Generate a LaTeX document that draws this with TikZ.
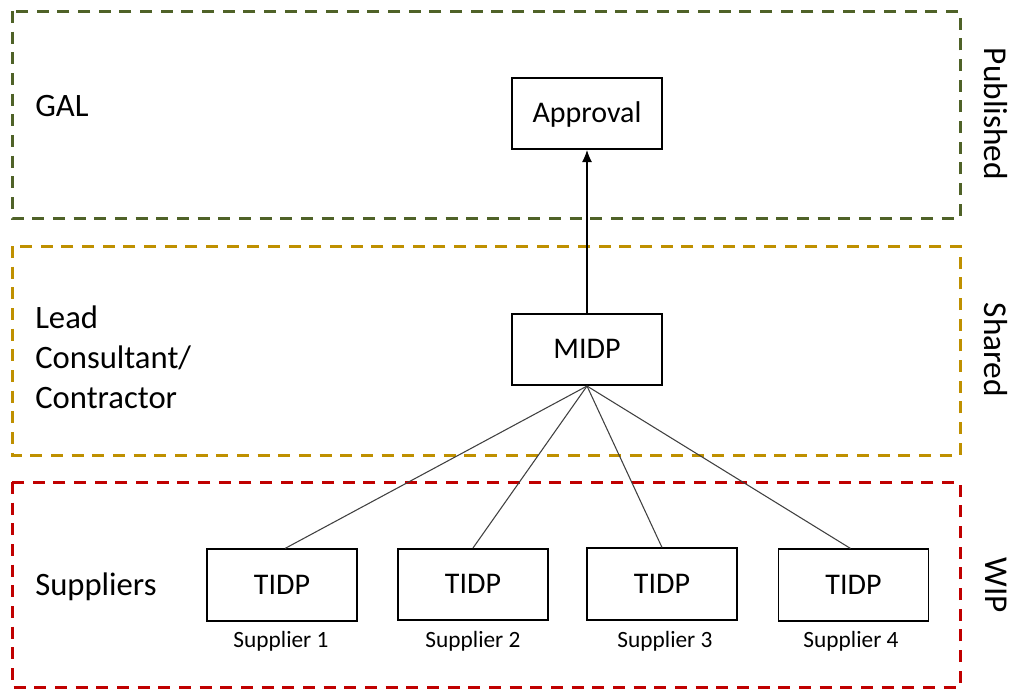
\documentclass[tikz,border=0pt]{standalone}
\usepackage{fontspec}
\setmainfont{Carlito}
\usetikzlibrary{arrows.meta}
\definecolor{pubgreen}{HTML}{4F6228}
\definecolor{shyellow}{HTML}{BF9000}
\definecolor{wipred}{HTML}{C00000}
\definecolor{conn}{HTML}{404040}
\tikzset{
  zone/.style={line width=2.25pt, dash pattern=on 9pt off 6.5pt},
  docbox/.style={draw=black, line width=1.3pt, fill=white, minimum width=112.5pt, minimum height=53.5pt, inner sep=0pt, text height=14.2pt, text depth=0pt, font=\fontsize{22.5}{26}\selectfont},
  lbl/.style={anchor=west, align=left, inner sep=0pt, font=\fontsize{24.5}{30}\selectfont},
  side/.style={rotate=-90, font=\fontsize{25}{28}\selectfont},
  sublbl/.style={font=\fontsize{17.5}{20}\selectfont},
  link/.style={draw=conn, line width=0.8pt},
}
\begin{document}
\begin{tikzpicture}[x=0.75pt, y=-0.75pt]
\useasboundingbox (0,0) rectangle (1013,690);
% zones
\draw[zone, draw=pubgreen] (12,11) rectangle (960,218);
\draw[zone, draw=shyellow] (12,246) rectangle (960,455);
\draw[zone, draw=wipred] (12,482) rectangle (960,687);
% left labels
\node[lbl] (gal) at (35,106) {GAL};
\node[lbl] (lead) at (35,357) {Lead\\Consultant/\\Contractor};
\node[lbl] (sup) at (35,587) {Suppliers};
% side labels
\node[side] (pub) at (996,114) {Published};
\node[side] (sh) at (996,350) {Shared};
\node[side] (wip) at (996,585) {WIP};
% boxes
\node[docbox] (appr) at (587,113.5) {Approval};
\node[docbox] (midp) at (587,349.5) {MIDP};
\node[docbox] (t1) at (282,585) {TIDP};
\node[docbox] (t2) at (473,584.5) {TIDP};
\node[docbox] (t3) at (662,584) {TIDP};
\node[docbox] (t4) at (853.5,585) {TIDP};
% supplier labels
\node[sublbl] (s1) at (281,641) {Supplier 1};
\node[sublbl] (s2) at (473,641) {Supplier 2};
\node[sublbl] (s3) at (665,641) {Supplier 3};
\node[sublbl] (s4) at (851,641) {Supplier 4};
% connectors
\draw[line width=0.8pt, -{Latex[length=9pt,width=7.5pt]}] (midp.north) -- (appr.south);
\draw[link] (midp.south) -- ([xshift=2.25pt]t1.north);
\draw[link] (midp.south) -- (t2.north);
\draw[link] (midp.south) -- (t3.north);
\draw[link] (midp.south) -- ([xshift=-2.25pt]t4.north);
\end{tikzpicture}
\end{document}
